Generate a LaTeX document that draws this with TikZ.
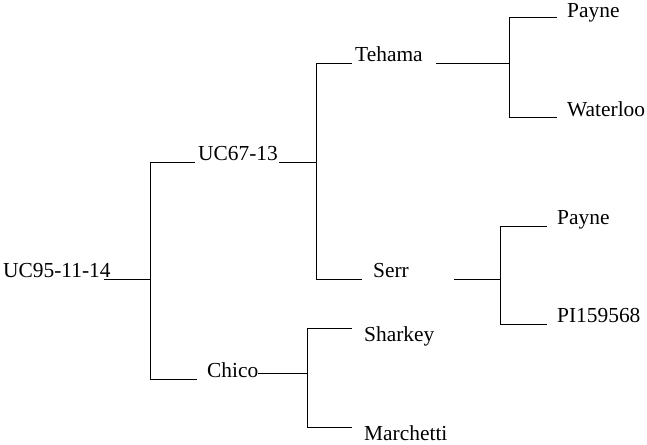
\documentclass[tikz,border=0pt]{standalone}
\usepackage{fontspec}
\setmainfont{Liberation Serif}
\begin{document}
\begin{tikzpicture}[x=1pt,y=-1pt,
  lbl/.style={inner sep=0pt,anchor=base west,font=\fontsize{21.4}{24}\selectfont},
  br/.style={line width=1pt,black}]
\useasboundingbox (0,0) rectangle (647,444);
% labels
\node[lbl] (root) at (3,277) {UC95-11-14};
\node[lbl] (uc67) at (198,160) {UC67-13};
\node[lbl] (teh) at (355,62) {Tehama};
\node[lbl] (pay1) at (567,18) {Payne};
\node[lbl] (wat) at (567,116) {Waterloo};
\node[lbl] (serr) at (373,277) {Serr};
\node[lbl] (pay2) at (557,224) {Payne};
\node[lbl] (pi) at (557,322) {PI159568};
\node[lbl] (chico) at (207,377) {Chico};
\node[lbl] (shark) at (364,341) {Sharkey};
\node[lbl] (march) at (364,440.5) {Marchetti};
% junction coordinates
\coordinate (r0) at (104,279);
\coordinate (j1t) at (150,162);
\coordinate (j1m) at (150,279);
\coordinate (j1b) at (150,379);
\coordinate (ucL) at (195,162);
\coordinate (ucR) at (279,162);
\coordinate (chL) at (197,379);
\coordinate (j2t) at (316,63);
\coordinate (j2m) at (316,162);
\coordinate (j2b) at (316,279);
\coordinate (teL) at (352,63);
\coordinate (teR) at (436,63);
\coordinate (j3t) at (509,18);
\coordinate (j3m) at (509,63);
\coordinate (j3b) at (509,117);
\coordinate (p1L) at (557,18);
\coordinate (waL) at (557,117);
\coordinate (seL) at (362,279);
\coordinate (seR) at (454,279);
\coordinate (j4t) at (500,226);
\coordinate (j4m) at (500,279);
\coordinate (j4b) at (500,324);
\coordinate (p2L) at (547,226);
\coordinate (piL) at (547,324);
\coordinate (chR) at (258,373);
\coordinate (j5t) at (307,328);
\coordinate (j5m) at (307,373);
\coordinate (j5b) at (307,427);
\coordinate (shL) at (352,328);
\coordinate (maL) at (352,427);
% connectors
\draw[br] (r0) -- (j1m);
\draw[br] (j1t) -- (j1b);
\draw[br] (j1t) -- (ucL);
\draw[br] (ucR) -- (j2m);
\draw[br] (j1b) -- (chL);
\draw[br] (j2t) -- (j2b);
\draw[br] (j2t) -- (teL);
\draw[br] (teR) -- (j3m);
\draw[br] (j3t) -- (j3b);
\draw[br] (j3t) -- (p1L);
\draw[br] (j3b) -- (waL);
\draw[br] (j2b) -- (seL);
\draw[br] (seR) -- (j4m);
\draw[br] (j4t) -- (j4b);
\draw[br] (j4t) -- (p2L);
\draw[br] (j4b) -- (piL);
\draw[br] (chR) -- (j5m);
\draw[br] (j5t) -- (j5b);
\draw[br] (j5t) -- (shL);
\draw[br] (j5b) -- (maL);
\end{tikzpicture}
\end{document}
